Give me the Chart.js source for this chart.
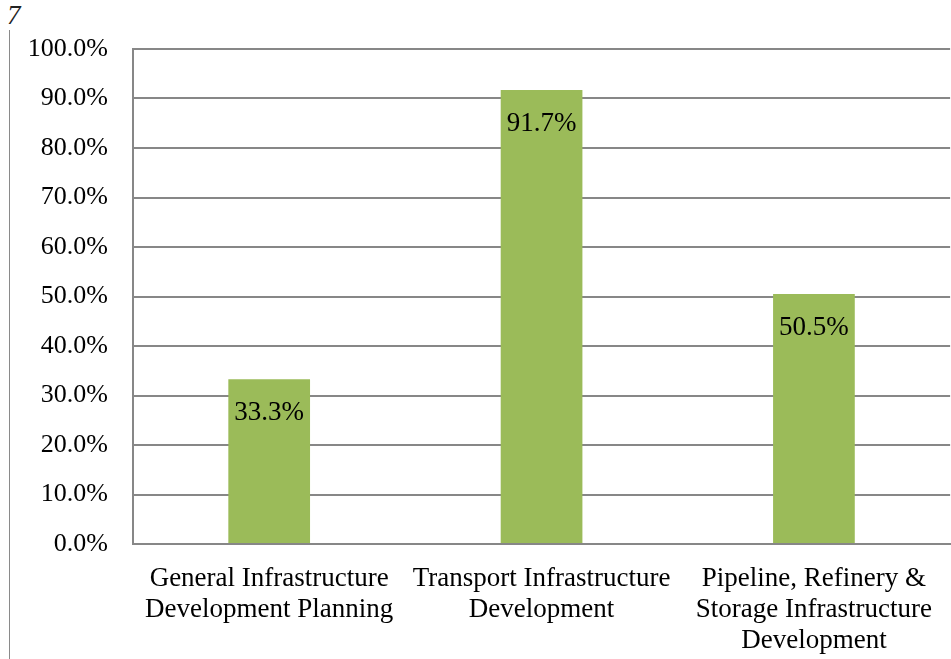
<!DOCTYPE html>
<html>
<head>
<meta charset="utf-8">
<script src="https://cdn.jsdelivr.net/npm/chart.js@4.4.1/dist/chart.umd.min.js"></script>
<style>
  html, body { margin: 0; padding: 0; background: #fff; }
  #wrap { position: relative; width: 951px; height: 659px; overflow: hidden; }
  #c { position: absolute; left: 0; top: 0; }
  #note { position: absolute; left: 7px; top: 0px; font: italic 27px "Liberation Serif", serif; color: #222; }
  #vline { position: absolute; left: 9px; top: 30px; width: 1px; height: 629px; background: #8a8a8a; }
</style>
</head>
<body>
<div id="wrap">
  <div id="note">7</div>
  <div id="vline"></div>
  <canvas id="c" width="951" height="659"></canvas>
</div>
<script>
const categories = [
  ["General Infrastructure", "Development Planning"],
  ["Transport Infrastructure", "Development"],
  ["Pipeline, Refinery &", "Storage Infrastructure", "Development"]
];
const values = [33.3, 91.7, 50.5];
const yTicks = [0, 10, 20, 30, 40, 50, 60, 70, 80, 90, 100];

const FONT = '"Liberation Serif", "Times New Roman", serif';

const valueLabels = {
  id: 'valueLabels',
  afterDatasetsDraw(chart) {
    const ctx = chart.ctx;
    const meta = chart.getDatasetMeta(0);
    ctx.save();
    ctx.font = '27px ' + FONT;
    ctx.fillStyle = '#000';
    ctx.textAlign = 'center';
    ctx.textBaseline = 'middle';
    meta.data.forEach((bar, i) => {
      ctx.fillText(values[i].toFixed(1) + '%', bar.x, bar.y + 34);
    });
    ctx.restore();
  }
};

new Chart(document.getElementById('c'), {
  type: 'bar',
  data: {
    labels: categories,
    datasets: [{
      data: values,
      backgroundColor: '#9BBB59',
      borderWidth: 0,
      barPercentage: 0.3,
      categoryPercentage: 1.0
    }]
  },
  options: {
    responsive: false,
    animation: false,
    layout: { padding: { top: 49, right: 0, left: 0, bottom: 0 } },
    plugins: { legend: { display: false }, tooltip: { enabled: false } },
    scales: {
      x: {
        offset: true,
        grid: { display: false, drawTicks: false },
        border: { display: true, color: '#878787', width: 2 },
        ticks: {
          color: '#000',
          font: { family: FONT, size: 27, lineHeight: 1.16 },
          padding: 19,
          maxRotation: 0,
          autoSkip: false
        },
        afterFit(s) { s.height = 115; }
      },
      y: {
        min: 0,
        max: 100,
        afterBuildTicks(s) { s.ticks = yTicks.map(v => ({ value: v })); },
        grid: { color: '#878787', lineWidth: 2, drawTicks: false },
        border: { display: true, color: '#878787', width: 2 },
        ticks: {
          color: '#000',
          font: { family: FONT, size: 26 },
          padding: 25,
          callback: v => v.toFixed(1) + '%'
        },
        afterFit(s) { s.width = 133; }
      }
    }
  },
  plugins: [valueLabels]
});
</script>
</body>
</html>
